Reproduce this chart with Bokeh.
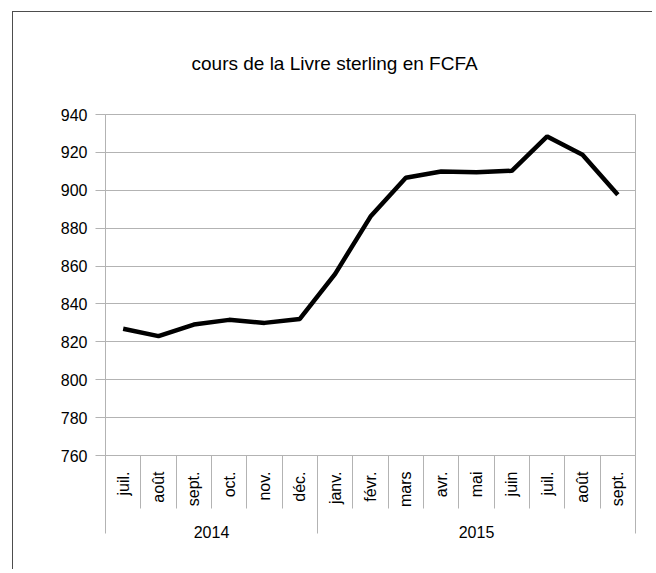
import math
from bokeh.plotting import figure
from bokeh.models import (FactorRange, Range1d, LinearAxis, CategoricalAxis,
                          FixedTicker, ColumnDataSource, Grid)
from bokeh.embed import file_html
from bokeh.resources import INLINE

title_text = "cours de la Livre sterling en FCFA"
years = ["2014", "2015"]
months_2014 = ["juil.", "août", "sept.", "oct.", "nov.", "déc."]
months_2015 = ["janv.", "févr.", "mars", "avr.", "mai", "juin", "juil.", "août", "sept."]
rates = [826.9, 823.0, 829.1, 831.6, 830.0, 832.1,
         855.9, 886.1, 906.6, 909.9, 909.5, 910.3, 928.4, 918.7, 897.6]
y_ticks = [760, 780, 800, 820, 840, 860, 880, 900, 920, 940]

factors = [(years[0], m) for m in months_2014] + [(years[1], m) for m in months_2015]
n = len(factors)
year_bounds = [0, len(months_2014), n]
month_bounds = [i for i in range(1, n) if i != len(months_2014)]

FONT = "Liberation Sans"
GRID = "#b3b3b3"

x_range = FactorRange(*factors, range_padding=0, group_padding=0, factor_padding=0)
p = figure(x_range=x_range, y_range=Range1d(y_ticks[0], y_ticks[-1]),
           width=640, height=558, output_backend="svg", toolbar_location=None,
           x_axis_location=None, y_axis_location=None,
           min_border_left=92, min_border_right=18, min_border_top=102, min_border_bottom=115)
p.styles = {"margin-left": "12px", "margin-top": "11px",
            "border-left": "1px solid #4d4d4d", "border-top": "1px solid #4d4d4d"}
p.background_fill_color = "white"
p.border_fill_color = "white"
p.outline_line_color = GRID
p.center = []

p.title.text = title_text
p.title.text_font = FONT
p.title.text_font_size = "19px"
p.title.text_font_style = "normal"
p.title.text_color = "black"
p.title.align = "left"
p.title.offset = 86
p.title.vertical_align = "top"
p.title.standoff = 78

# y axis
yaxis = LinearAxis(ticker=FixedTicker(ticks=y_ticks), axis_line_color=GRID,
                   major_tick_line_color=GRID, major_tick_out=10, major_tick_in=0,
                   minor_tick_line_color=None, major_label_standoff=8,
                   major_label_text_font=FONT, major_label_text_font_size="16px",
                   major_label_text_color="black")
p.add_layout(yaxis, "left")
p.add_layout(Grid(dimension=1, ticker=yaxis.ticker, grid_line_color=GRID))

# separators (outward ticks of a zero-size axis on the synthetic 0..n range)
sep_axis = LinearAxis(ticker=FixedTicker(ticks=year_bounds, minor_ticks=month_bounds),
                      axis_line_color=None,
                      major_tick_in=-78, major_tick_out=0, major_tick_line_color=GRID,
                      minor_tick_in=-53, minor_tick_out=0, minor_tick_line_color=GRID,
                      major_label_overrides={b: "" for b in year_bounds},
                      major_label_text_font_size="0px", major_label_text_color=None,
                      major_label_standoff=0)

cat_axis = CategoricalAxis(major_label_orientation=math.pi / 2,
                           major_tick_out=0, major_tick_in=0, major_tick_line_color=None,
                           axis_line_color=GRID, major_label_standoff=16,
                           major_label_text_font=FONT, major_label_text_font_size="16px",
                           major_label_text_color="black",
                           group_text_font=FONT, group_text_font_size="16px",
                           group_text_color="black", group_text_font_style="normal",
                           separator_line_color=None)
p.below = [sep_axis, cat_axis]

src = ColumnDataSource(dict(x=factors, y=rates))
p.line(x="x", y="y", source=src, line_width=4.5, line_color="black")

open("out.html", "w").write(file_html(p, INLINE))
